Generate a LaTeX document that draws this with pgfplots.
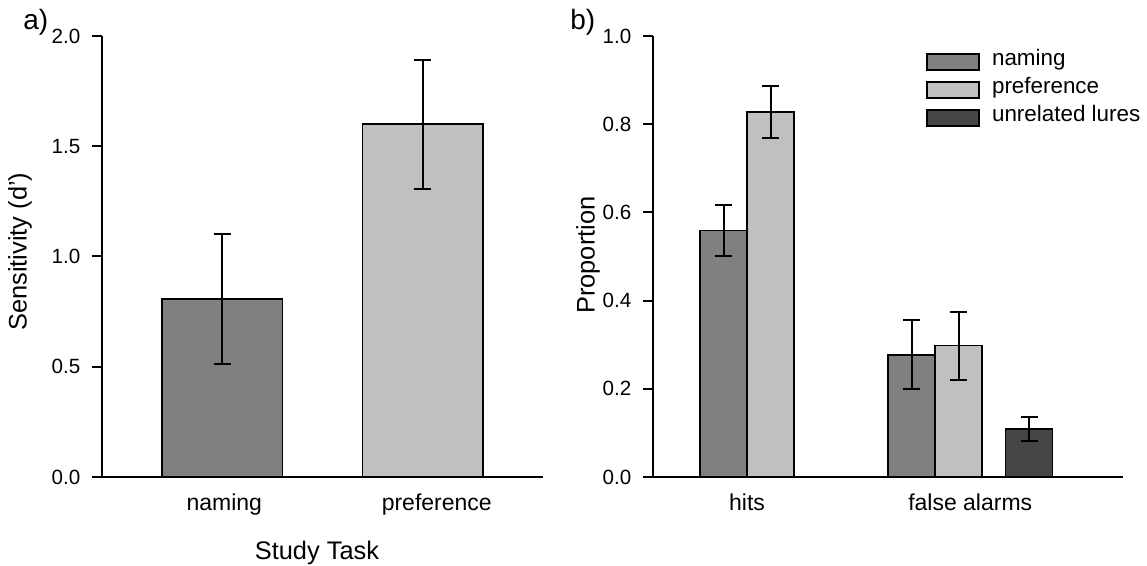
\documentclass[border=0pt]{standalone}
\usepackage{fontspec}
\setmainfont{Liberation Sans}
\usepackage{pgfplots}
\pgfplotsset{compat=1.18}
\definecolor{cNam}{RGB}{128,128,128}
\definecolor{cPref}{RGB}{192,192,192}
\definecolor{cUnr}{RGB}{70,70,70}
\pgfplotsset{
  panel/.style={
    scale only axis, height=220.5pt, ymin=0,
    axis x line*=bottom, axis y line*=left,
    axis line style={line width=1pt},
    tick align=outside, major tick length=5pt,
    ytick style={line width=1pt, black},
    xtick style={draw=none},
    yticklabel style={font=\fontsize{10.3}{12}\selectfont, xshift=-2.3pt},
    xticklabel style={font=\fontsize{11.5}{13}\selectfont},
    label style={font=\fontsize{12.7}{15}\selectfont},
    /pgf/number format/fixed, /pgf/number format/fixed zerofill,
    /pgf/number format/precision=1, /pgf/number format/assume math mode=true,
  },
  bars/.style={ybar, bar shift=0pt, draw=black, line width=0.8pt,
    error bars/y dir=both, error bars/y explicit,
    error bars/error bar style={line width=1pt, black},
    error bars/error mark options={line width=1pt, black, mark size=4.25pt, rotate=90}},
}
\begin{document}
\begin{tikzpicture}
% panel a
\begin{axis}[panel, at={(51pt,44.5pt)}, anchor=south west,
  width=220.5pt, xmin=-0.6, xmax=1.6, ymax=2.0,
  ytick={0,0.5,1,1.5,2}, xtick={0.01,1.07}, xticklabels={naming,preference},
  bar width=0.6,
  xlabel={Study Task}, ylabel={Sensitivity (d')},
  xlabel style={at={(axis description cs:0.4875,-0.1882)}, anchor=base},
  ylabel style={at={(axis description cs:-0.186,0.511)}, anchor=center},
]
\addplot[bars, fill=cNam] coordinates {(0,0.807) +- (0,0.295)};
\addplot[bars, fill=cPref] coordinates {(1,1.600) +- (0,0.293)};
\end{axis}
% panel b
\begin{axis}[panel, at={(326.5pt,44.5pt)}, anchor=south west,
  width=235pt, xmin=0, xmax=10, ymax=1.0,
  ytick={0,0.2,0.4,0.6,0.8,1.0}, xtick={2,6.75}, xticklabels={hits,false alarms},
  bar width=1,
  ylabel={Proportion},
  ylabel style={at={(axis description cs:-0.138,0.503)}, anchor=center},
  legend style={at={(rel axis cs:0.581,0.974)}, anchor=north west, draw=none, fill=none,
    font=\fontsize{11.2}{13}\selectfont, row sep=0pt, inner sep=0pt,
    nodes={inner sep=0pt, text height=9pt, text depth=5pt}},
  legend cell align=left,
  legend image code/.code={\draw[#1] (0pt,-4pt) rectangle (26pt,4pt); \path (32pt,0pt);},
]
\addplot[bars, fill=cNam] coordinates {(1.5,0.5585) +- (0,0.058) (5.5,0.277) +- (0,0.078)};
\addplot[bars, fill=cPref] coordinates {(2.5,0.828) +- (0,0.059) (6.5,0.298) +- (0,0.077)};
\addplot[bars, fill=cUnr] coordinates {(8.0,0.109) +- (0,0.027)};
\legend{naming,preference,unrelated lures}
\end{axis}
\node[anchor=base west, inner sep=0pt, font=\fontsize{14}{16}\selectfont] at (11.5pt,268pt) {a)};
\node[anchor=base west, inner sep=0pt, font=\fontsize{14}{16}\selectfont] at (285pt,268pt) {b)};
\pgfresetboundingbox
\useasboundingbox (0,0) rectangle (573.5pt,283pt);
\end{tikzpicture}
\end{document}
